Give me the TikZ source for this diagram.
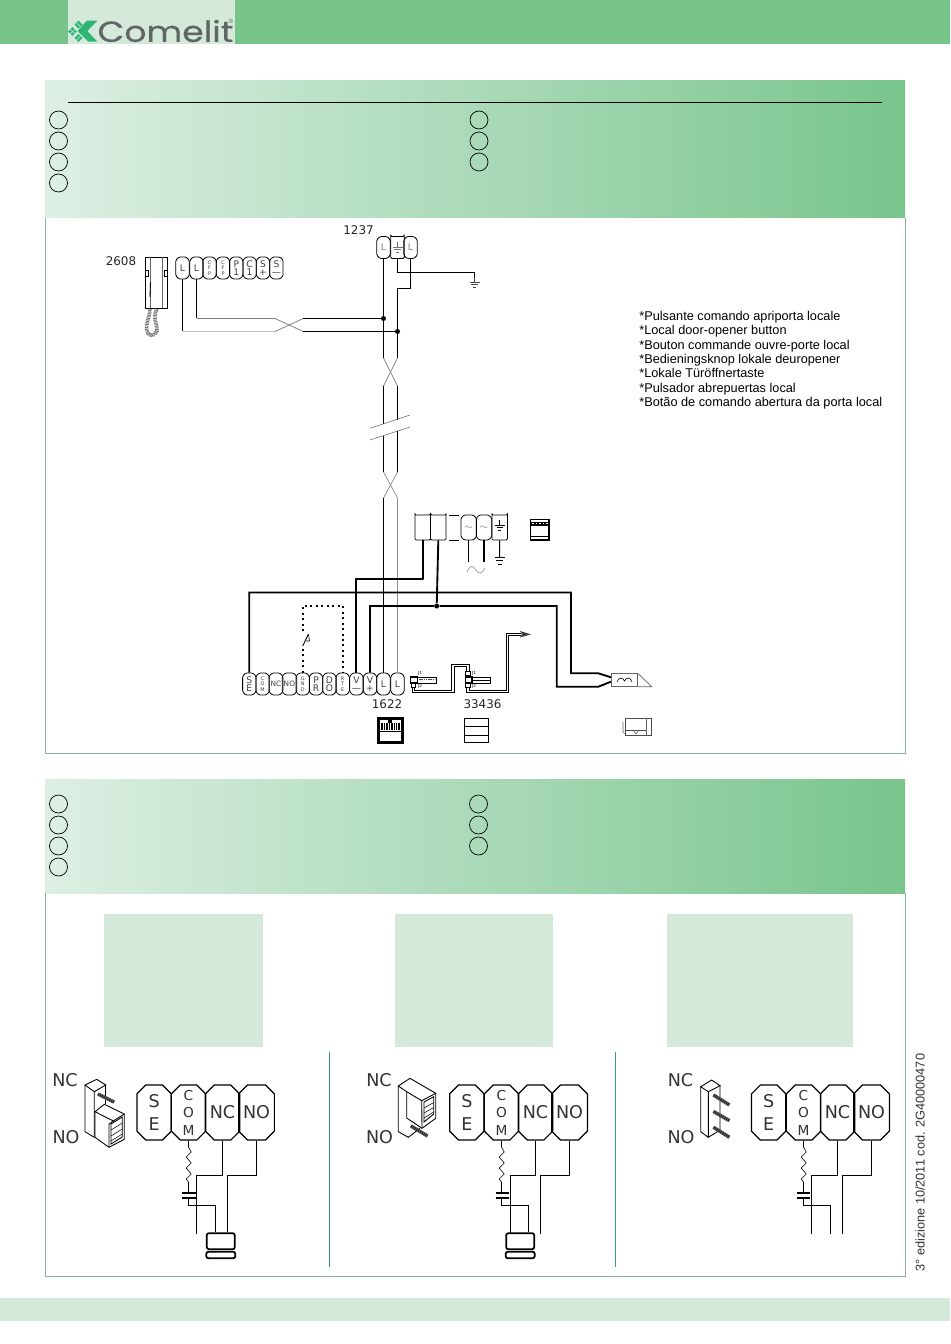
\documentclass[tikz,border=0pt]{standalone}
\usepackage{fontspec}
\setmainfont{Liberation Sans}
\newfontfamily\termfont{DejaVu Sans}
\newfontfamily\logofont[FakeBold=0.5]{Poppins}
\usetikzlibrary{shapes.misc}
\definecolor{headgreen}{HTML}{78C58C}
\definecolor{palegreen}{HTML}{D5E9DA}
\definecolor{fadegreen}{HTML}{DDEFE4}
\definecolor{framegreen}{HTML}{86B49A}
\definecolor{markgreen}{HTML}{2DB573}
\definecolor{logogray}{HTML}{5F6665}
\definecolor{rulegreen}{HTML}{2A9A70}
\definecolor{ruleteal}{HTML}{2AA09A}
\def\earth[#1](#2,#3){\draw[#1] (#2,#3-5) -- (#2,#3); \draw[#1] (#2-5,#3) -- (#2+5,#3); \draw[#1] (#2-3.2,#3+2.6) -- (#2+3.2,#3+2.6); \draw[#1] (#2-1.6,#3+5) -- (#2+1.6,#3+5);}
\def\resistor(#1,#2){\draw[line width=0.35pt] (#1,#2) -- (#1+2.7,#2+5) -- (#1-2.3,#2+10) -- (#1+2.7,#2+16) -- (#1-2.3,#2+21) -- (#1+2.7,#2+27) -- (#1-2.3,#2+32) -- (#1,#2+35);}
\tikzset{
	smallterm/.style={draw, line width=0.45pt, chamfered rectangle, chamfered rectangle sep=0.9pt, rounded corners=0.7pt, inner sep=0, minimum width=0.268cm, minimum height=0.44cm, align=center, text=black!75, font=\termfont\fontsize{5.2}{4.4}\selectfont},
	tinyterm/.style={smallterm, font=\termfont\fontsize{2.8}{3}\selectfont},
	powerterm/.style={smallterm, minimum width=0.31cm, minimum height=0.5cm},
	bigterm/.style={draw, line width=0.7pt, chamfered rectangle, chamfered rectangle sep=2.5pt, inner sep=0, minimum width=0.686cm, minimum height=1.1cm, align=center, text=black!80, font=\termfont\fontsize{10}{13}\selectfont},
	comterm/.style={bigterm, font=\termfont\fontsize{7.8}{10}\selectfont},
	pinlabel/.style={text=black!80, font=\termfont\fontsize{10}{12}\selectfont},
	partno/.style={text=black!85, font=\termfont\fontsize{6.8}{8}\selectfont},
	wire/.style={line width=0.6pt},
	palewire/.style={line width=0.5pt, color=black!45},
	heavywire/.style={line width=1.05pt},
	jdot/.style={circle, fill=black, inner sep=0, minimum size=0.1cm},
	bullet/.style={circle, draw, line width=0.4pt, inner sep=0, minimum size=0.36cm},
	cable/.style={draw=black, line width=0.5pt, double=white, double distance=0.8pt},
	pinstripe/.style={line width=2pt, color=black!60},
	pinhatch/.style={line width=1.6pt, color=black!85, dash pattern=on 0.6pt off 0.6pt},
	relaybox/.style={draw, line width=1pt, rounded corners=1.2pt, inner sep=0},
	plug/.style={draw, fill=white, line width=0.45pt, inner sep=0, minimum width=0.09cm, minimum height=0.08cm},
	jacklabel/.style={inner sep=0, font=\termfont\fontsize{2.4}{3}\selectfont},
}
\begin{document}
\begin{tikzpicture}[x=0.02cm, y=-0.02cm]
			%%%%% PAGE %%%%%
			\useasboundingbox (0, 0) rectangle (950, 1344);
			\fill[white] (0, 0) rectangle (950, 1344);
			\fill[headgreen] (0, 0) rectangle (950, 44.5);
			\fill[palegreen] (68, 0) rectangle (235, 44.5);
			\fill[palegreen] (0, 1298) rectangle (950, 1321);
			
			\fill[markgreen] (86.7, 20.7) -- (97.3, 20.7) -- (87.3, 31) -- (97.3, 41.7) -- (88.3, 41.7) -- (77.7, 31) -- cycle;
			\fill[markgreen] (72.5, 27) -- (76.8, 31.5) -- (72.5, 36) -- (68.2, 31.5) -- cycle;
			\fill[markgreen] (78.5, 20.7) -- (82.5, 24.7) -- (78.5, 28.7) -- (74.5, 24.7) -- cycle;
			\fill[markgreen] (78.5, 34) -- (82.5, 38) -- (78.5, 42) -- (74.5, 38) -- cycle;
			\draw[palegreen, line width=0.3pt] (70.3, 29.5) -- (74.7, 33.7);
			\draw[palegreen, line width=0.3pt] (70.3, 33.7) -- (74.7, 29.5);
			\draw[palegreen, line width=0.3pt] (76.5, 22.7) -- (80.5, 26.7);
			\draw[palegreen, line width=0.3pt] (76.5, 40) -- (80.5, 36);
			\node[inner sep=0, text=logogray, xscale=1.195, transform shape, font=\logofont\fontsize{16.5}{18}\selectfont] (logotext) at (165.5, 31) {Comelit};
			\node[inner sep=0, text=logogray, font=\fontsize{3.5}{4}\selectfont] (logomark) at (231, 21) {®};
			
			%%%%% TOP PANEL %%%%%
			\shade[left color=fadegreen, right color=headgreen] (45, 81) rectangle (905, 218);
			\draw[framegreen, line width=0.55pt] (45, 218) -- (45, 753) -- (905, 753) -- (905, 218);
			\draw[line width=0.5pt] (68, 102.5) -- (882, 102.5);
			
			\node[bullet] (ca) at (58.5, 120) {};
			\node[bullet] (cb) at (58.5, 141) {};
			\node[bullet] (cc) at (58.5, 162) {};
			\node[bullet] (cd) at (58.5, 183) {};
			\node[bullet] (ce) at (479, 120) {};
			\node[bullet] (cf) at (479, 141) {};
			\node[bullet] (cg) at (479, 162) {};
			
			\node[anchor=north west, inner sep=0, align=left, font=\fontsize{7.25}{8.17}\selectfont] (buttonnote) at (639, 311) {*Pulsante comando apriporta locale\\*Local door-opener button\\*Bouton commande ouvre-porte local\\*Bedieningsknop lokale deuropener\\*Lokale Türöffnertaste\\*Pulsador abrepuertas local\\*Botão de comando abertura da porta local};
			
			% handset
			\node[partno] (lhandset) at (121, 261) {2608};
			\draw[line width=0.5pt] (145, 257) rectangle (167.7, 308);
			\draw[line width=0.3pt, color=black!60] (150, 257) -- (150, 308);
			\draw[line width=0.3pt, color=black!60] (162.7, 257) -- (162.7, 308);
			\draw[line width=0.45pt] (145, 270.7) rectangle (148.5, 276);
			\draw[line width=0.45pt] (164, 270.7) rectangle (167.7, 276);
			\draw[line width=0.5pt] (150.5, 282) -- (150, 297);
			\draw[line width=2.1pt, color=black!55, dash pattern=on 0.5pt off 0.4pt] (157, 309) .. controls (152, 318) and (158, 326) .. (157, 331) .. controls (155, 337) and (147, 337) .. (146.5, 329) .. controls (146, 322) and (150, 316) .. (150, 309);
			
			\node[smallterm] (hla) at (182.5, 268) {L};
			\node[smallterm] (hlb) at (196.5, 268) {L};
			\node[tinyterm] (hcfa) at (209.5, 268) {C\\F\\P};
			\node[tinyterm] (hcfb) at (223, 268) {C\\F\\P};
			\node[smallterm] (hpa) at (236.3, 268) {P\\1};
			\node[smallterm] (hca) at (249.6, 268) {C\\1};
			\node[smallterm] (hsp) at (263, 268) {S\\+};
			\node[smallterm] (hsm) at (276.4, 268) {S\\—};
			
			% door entry riser
			\node[partno] (lriser) at (358.5, 230.5) {1237};
			\node[smallterm, text=black!50] (da) at (383.5, 247.5) {L};
			\node[smallterm] (db) at (397.5, 247.5) {};
			\node[smallterm, text=black!50] (dc) at (410.5, 247.5) {L};
			\earth[line width=0.25pt, color=black!55](397.5, 247)
			
			\node[jdot] (ja) at (383.5, 318.5) {};
			\node[jdot] (jb) at (397.5, 331.5) {};
			\coordinate (xa) at (275, 331.5);
			\coordinate (xb) at (275, 318.5);
			\coordinate (xc) at (303.3, 318.5);
			\coordinate (xd) at (303.3, 331.5);
			\coordinate (ga) at (474.5, 272.5);
			\coordinate (gb) at (474.5, 282);
			\coordinate (bend) at (397.5, 288.5);
			\coordinate (twa) at (383.5, 358);
			\coordinate (twb) at (397.5, 358);
			\coordinate (twc) at (383.5, 386);
			\coordinate (twd) at (397.5, 386);
			\coordinate (bra) at (383.5, 424);
			\coordinate (brb) at (397.5, 419.5);
			\coordinate (brc) at (383.5, 435.5);
			\coordinate (brd) at (397.5, 431);
			\coordinate (twe) at (383.5, 472);
			\coordinate (twf) at (397.5, 472);
			\coordinate (twg) at (383.5, 498);
			\coordinate (twh) at (397.5, 498);
			
			\draw[wire] (hla.south) -- (hla.south |- xa);
			\draw[wire] (hlb.south) -- (hlb.south |- xb);
			\draw[line width=0.9pt, color=black!25] (hla.south |- xa) -- (xa);
			\draw[line width=0.5pt, color=black!50] (hlb.south |- xb) -- (xb);
			\draw[palewire] (xa) -- (xc);
			\draw[palewire] (xb) -- (xd);
			\draw[wire] (xc) -- (ja);
			\draw[wire] (xd) -- (jb);
			\draw[wire] (da.south) -- (ja) -- (twa);
			\draw[wire] (dc.south) |- (bend) -- (jb) -- (twb);
			\draw[wire] (db.south) |- (ga) -- (gb);
			\earth[line width=0.3pt, color=black!70](474.5, 282)
			
			\draw[palewire, line width=0.4pt] (twa) -- (twd);
			\draw[palewire, line width=0.4pt] (twb) -- (twc);
			\draw[wire] (twc) -- (bra);
			\draw[wire] (twd) -- (brb);
			\draw[line width=0.3pt, color=black!60] (370, 428.3) -- (410, 415);
			\draw[line width=0.3pt, color=black!60] (370, 440) -- (410, 427);
			\draw[wire] (brc) -- (twe);
			\draw[wire] (brd) -- (twf);
			\draw[palewire, line width=0.4pt] (twe) -- (twh);
			\draw[palewire, line width=0.4pt] (twf) -- (twg);
			
			% power supply
			\node[powerterm] (pa) at (422.7, 527.5) {};
			\node[powerterm] (pb) at (438.3, 527.5) {};
			\node[powerterm, text=black!45] (pc) at (468.7, 527.5) {$\sim$};
			\node[powerterm, text=black!45] (pd) at (484, 527.5) {$\sim$};
			\node[powerterm] (pe) at (499.7, 527.5) {};
			\earth[line width=0.35pt](499.7, 525)
			\draw[line width=0.4pt] (448.5, 515) -- (458.5, 515);
			\draw[line width=0.4pt] (448.5, 540) -- (458.5, 540);
			\coordinate (pca) at (469.3, 561.7);
			\coordinate (pda) at (484.3, 561.7);
			\coordinate (pea) at (499.5, 557);
			\draw[wire] (pc.south) -- (pc.south |- pca);
			\draw[wire] (pd.south) -- (pd.south |- pda);
			\draw[wire] (pe.south) -- (pea);
			\draw[line width=0.4pt] (494.5, 557) -- (504.5, 557);
			\draw[line width=0.4pt] (496, 560.5) -- (503, 560.5);
			\draw[line width=0.4pt] (497.5, 564) -- (501.5, 564);
			\draw[line width=0.3pt, color=black!50] (467, 572) .. controls (470, 565) and (473, 565) .. (476, 570) .. controls (479, 575) and (482, 574) .. (485, 568);
			
			\draw[line width=0.6pt] (530.5, 519.5) rectangle (549, 540);
			\fill[black] (531, 521.5) rectangle (548.5, 526);
			\draw[white, line width=0.5pt, dash pattern=on 1pt off 1pt] (532, 523.8) -- (548, 523.8);
			\draw[line width=0.5pt] (530.5, 536) -- (549, 536);
			
			% outdoor module
			\node[smallterm] (mse) at (249.3, 684) {S\\E};
			\node[tinyterm] (mcom) at (262.6, 684) {C\\O\\M};
			\node[smallterm, font=\termfont\fontsize{4.2}{5}\selectfont] (mnc) at (276, 684) {NC};
			\node[smallterm, font=\termfont\fontsize{4.2}{5}\selectfont] (mno) at (289.4, 684) {NO};
			\node[tinyterm] (mgnd) at (302.7, 684) {G\\N\\D};
			\node[smallterm] (mpr) at (316, 684) {P\\R};
			\node[smallterm] (mdo) at (329.4, 684) {D\\O};
			\node[tinyterm] (mrte) at (342.7, 684) {R\\T\\E};
			\node[smallterm] (mvm) at (356.4, 684) {V\\—};
			\node[smallterm] (mvp) at (370, 684) {V\\+};
			\node[smallterm] (mla) at (383.5, 684) {L};
			\node[smallterm] (mlb) at (397.5, 684) {L};
			\node[partno] (lmodule) at (387, 704) {1622};
			\node[partno] (lkeypad) at (482.5, 704) {33436};
			
			\draw[wire] (twg) -- (mla.north);
			\draw[palewire] (twh) -- (mlb.north);
			
			\coordinate (sa) at (571, 592.5);
			\coordinate (sb) at (571, 673.3);
			\coordinate (sc) at (598.3, 673.3);
			\coordinate (va) at (423.5, 579.3);
			\coordinate (vb) at (556.7, 606);
			\coordinate (vc) at (556.7, 686.7);
			\coordinate (vd) at (598.3, 686.7);
			\coordinate (doa) at (302.7, 631);
			\coordinate (dob) at (302.7, 646);
			\coordinate (doc) at (343.3, 606);
			\coordinate (caa) at (611, 677.3);
			\coordinate (cab) at (611, 681.7);
			\node[jdot] (jc) at (436.7, 606) {};
			
			\draw[heavywire] (mse.north) |- (sa) -- (sb) -- (sc) -- (caa);
			\draw[heavywire] (mvp.north) |- (jc) -- (vb) -- (vc) -- (vd) -- (cab);
			\draw[heavywire] (jc) -- (pb.south);
			\draw[heavywire] (pa.south) |- (va) -| (mvm.north);
			\draw[line width=1.1pt, dotted] (mgnd.north) -- (dob);
			\draw[line width=1.1pt, dotted] (doa) -- (mgnd.north |- doc) -| (mrte.north);
			\draw[line width=0.5pt] (dob) -- (308.5, 634);
			\draw[line width=0.35pt] (306, 641) -- (309.5, 641) -- (308.5, 634.5);
			
			% camera
			\draw[line width=0.4pt, color=black!60] (611, 673.3) rectangle (637.7, 686.7);
			\draw[line width=0.4pt, color=black!60] (637.7, 673.3) -- (651.7, 686.7) -- (637.7, 686.7);
			\draw[line width=0.35pt] (617, 682) .. controls (618, 677) and (623, 677) .. (624.5, 681) .. controls (626, 677) and (631, 677) .. (632, 682);
			\draw[line width=0.45pt, color=black!70] (625, 718) rectangle (651.7, 735);
			\draw[line width=0.3pt, color=black!60] (623, 722) -- (623, 732) -- (625, 734);
			\draw[line width=0.3pt, color=black!60] (646, 718) -- (646, 735);
			\draw[line width=0.3pt, color=black!70] (625, 730) -- (646, 730);
			\draw[line width=0.3pt, color=black!70] (633, 730) -- (636, 734) -- (639, 730);
			
			% keypad modules
			\draw[line width=0.45pt] (417.3, 677.5) rectangle (436.7, 683.3);
			\draw[line width=0.9pt, dash pattern=on 0.9pt off 0.4pt, color=black!70] (419, 679.5) -- (435, 679.5);
			\draw[line width=0.8pt] (410.5, 677) rectangle (417.3, 683);
			\node[plug] (pla) at (413.5, 685.2) {};
			\node[jacklabel] (lja) at (420, 673.7) {J1};
			\node[jacklabel] (ljb) at (420, 686.7) {J2};
			
			\draw[line width=0.45pt] (472, 677) rectangle (490, 683.3);
			\draw[line width=1pt] (472, 680.5) -- (490, 680.5);
			\draw[line width=0.8pt] (465.5, 677) rectangle (472, 683);
			\node[plug] (plb) at (468, 673.7) {};
			\node[plug] (plc) at (468, 685.2) {};
			\node[jacklabel] (ljc) at (474, 673.7) {J1};
			\node[jacklabel] (ljd) at (474, 686.7) {J2};
			
			\coordinate (caba) at (453, 691.7);
			\coordinate (cabb) at (453, 665.7);
			\coordinate (cabc) at (507.3, 691.7);
			\coordinate (cabd) at (507.3, 634.3);
			\coordinate (cabe) at (521, 634.3);
			\draw[cable] (pla.south) |- (caba) -- (cabb) -| (plb.north);
			\draw[cable] (plc.south) |- (cabc) -- (cabd) -- (cabe);
			\fill[black!75] (520, 631) -- (531, 634.3) -- (520, 637.5) -- (522, 634.3) -- cycle;
			
			% module icons
			\draw[line width=1.2pt] (378.5, 718.5) rectangle (402.5, 742.5);
			\draw[line width=0.7pt] (378.5, 731.5) -- (402.5, 731.5);
			\foreach \gx in {381, 382.7, ..., 400.5} {
				\draw[line width=0.5pt] (\gx, 723) -- (\gx, 729.5);
			}
			\fill[black] (388, 719) rectangle (392, 723);
			\draw[line width=0.8pt] (464.5, 718.5) rectangle (488.5, 742.5);
			\draw[line width=0.5pt] (464.5, 726.7) -- (488.5, 726.7);
			\draw[line width=0.5pt] (464.5, 735) -- (488.5, 735);
			
			%%%%% BOTTOM PANEL %%%%%
			\shade[left color=fadegreen, right color=headgreen] (45, 779) rectangle (905, 893);
			\draw[framegreen, line width=0.55pt] (45, 893) -- (45, 1276) -- (905, 1276) -- (905, 893);
			
			\node[bullet] (ch) at (58.5, 804) {};
			\node[bullet] (ci) at (58.5, 825) {};
			\node[bullet] (cj) at (58.5, 846) {};
			\node[bullet] (ck) at (58.5, 867) {};
			\node[bullet] (cl) at (478.5, 804) {};
			\node[bullet] (cm) at (478.5, 825) {};
			\node[bullet] (cn) at (478.5, 846) {};
			
			\fill[palegreen] (104, 914) rectangle (263, 1047);
			\fill[palegreen] (394.5, 914) rectangle (553, 1047);
			\fill[palegreen] (667, 914) rectangle (853, 1047);
			
			\draw[color=rulegreen, line width=0.6pt] (329.5, 1052) -- (329.5, 1267);
			\draw[color=ruleteal, line width=0.6pt] (615.5, 1052) -- (615.5, 1267);
			\node[rotate=90, anchor=west, inner sep=0, text=black!80, font=\fontsize{7.25}{8}\selectfont] (edition) at (920, 1272) {3° edizione 10/2011 cod. 2G40000470};
			
			% first contact
			\node[pinlabel] (lnca) at (65, 1080) {NC};
			\node[pinlabel] (lnoa) at (66, 1137.5) {NO};
			\node[bigterm] (sea) at (154.2, 1112.5) {S\\E};
			\node[comterm] (coa) at (188.5, 1112.5) {C\\O\\M};
			\node[bigterm] (nca) at (222.5, 1112.5) {NC};
			\node[bigterm] (noa) at (256.5, 1112.5) {NO};
			\node[relaybox, minimum width=0.56cm, minimum height=0.32cm] (rea) at (220.8, 1241.2) {};
			\node[relaybox, minimum width=0.58cm, minimum height=0.13cm] (rfa) at (220.8, 1255) {};
			\coordinate (raa) at (188.5, 1147);
			\coordinate (rab) at (188.5, 1192);
			\coordinate (rac) at (188.5, 1199);
			\coordinate (rad) at (215.5, 1205.5);
			\coordinate (rae) at (196.5, 1175.5);
			\coordinate (raf) at (196.5, 1233.5);
			\coordinate (rag) at (227.5, 1175.5);
			\draw[wire] (coa.south) -- (raa);
			\resistor(188.5, 1147)
			\draw[wire] (188.5, 1182) -- (rab);
			\draw[line width=1.2pt] (182.3, 1193.3) -- (195.7, 1193.3);
			\draw[line width=1.2pt] (182.3, 1198.3) -- (195.7, 1198.3);
			\draw[wire] (rac) |- (rad) -- (rad |- rea.north);
			\draw[wire] (nca.south) |- (rae) -- (raf);
			\draw[wire] (noa.south) |- (rag) -- (rag |- rea.north);
			
			\draw[line width=0.5pt] (85, 1085) -- (96.7, 1079.3) -- (105.7, 1085) -- (94.3, 1091.7) -- cycle;
			\draw[line width=0.5pt] (85, 1085) -- (85, 1131.7) -- (94.3, 1137.3) -- (94.3, 1091.7);
			\draw[line width=0.5pt] (105.7, 1085) -- (105.7, 1104);
			\draw[pinstripe] (98, 1094) -- (114, 1102);
			\draw[pinhatch] (98, 1094) -- (114, 1102);
			\draw[line width=0.5pt] (95, 1111.7) -- (104.3, 1104.3) -- (124.3, 1114) -- (113.3, 1121) -- cycle;
			\draw[line width=0.5pt] (95, 1111.7) -- (95, 1137.3) -- (109, 1147.3) -- (124.3, 1139.3) -- (124.3, 1114);
			\draw[line width=0.5pt] (109, 1147.3) -- (109, 1124) -- (113.3, 1121);
			\draw[line width=0.5pt] (111, 1124) -- (122.3, 1117) -- (122.3, 1137) -- (111, 1144) -- cycle;
			\draw[line width=0.3pt] (111, 1130) -- (122.3, 1123);
			\draw[line width=0.3pt] (111, 1136) -- (122.3, 1129);
			\draw[line width=0.3pt] (111, 1141) -- (122.3, 1134);
			
			% second contact
			\node[pinlabel] (lncb) at (379, 1080) {NC};
			\node[pinlabel] (lnob) at (379.5, 1137.5) {NO};
			\node[bigterm] (seb) at (466.9, 1112.5) {S\\E};
			\node[comterm] (cob) at (501.5, 1112.5) {C\\O\\M};
			\node[bigterm] (ncb) at (535.5, 1112.5) {NC};
			\node[bigterm] (nob) at (569.5, 1112.5) {NO};
			\node[relaybox, minimum width=0.56cm, minimum height=0.32cm] (reb) at (520.2, 1241.2) {};
			\node[relaybox, minimum width=0.58cm, minimum height=0.13cm] (rfb) at (520.2, 1255) {};
			\coordinate (rba) at (501.5, 1147);
			\coordinate (rbb) at (501.5, 1192);
			\coordinate (rbc) at (501.5, 1199);
			\coordinate (rbd) at (528.5, 1205.5);
			\coordinate (rbe) at (510.5, 1175.5);
			\coordinate (rbf) at (510.5, 1233.5);
			\coordinate (rbg) at (540.5, 1175.5);
			\coordinate (rbh) at (540.5, 1233.5);
			\draw[wire] (cob.south) -- (rba);
			\resistor(501.5, 1147)
			\draw[wire] (501.5, 1182) -- (rbb);
			\draw[line width=1.2pt] (495.5, 1193.3) -- (509, 1193.3);
			\draw[line width=1.2pt] (495.5, 1198.3) -- (509, 1198.3);
			\draw[wire] (rbc) |- (rbd) -- (rbd |- reb.north);
			\draw[wire] (ncb.south) |- (rbe) -- (rbf);
			\draw[wire] (nob.south) |- (rbg) -- (rbh);
			
			\draw[line width=0.5pt] (398.3, 1086) -- (410, 1078.3) -- (435.7, 1093.3) -- (421.7, 1100.7) -- (406.7, 1091.7) -- cycle;
			\draw[line width=0.5pt] (398.3, 1086) -- (398.3, 1131.7) -- (408.3, 1137.3) -- (420, 1128.3);
			\draw[line width=0.5pt] (406.7, 1091.7) -- (406.7, 1118) -- (422, 1128.3) -- (435.7, 1118.3) -- (435.7, 1093.3);
			\draw[line width=0.5pt] (421.7, 1100.7) -- (422, 1128.3);
			\draw[line width=0.5pt] (424, 1102) -- (433.7, 1096.7) -- (433.7, 1114) -- (424, 1122) -- cycle;
			\draw[line width=0.3pt] (424, 1108) -- (433.7, 1102.5);
			\draw[line width=0.3pt] (424, 1113) -- (433.7, 1107.5);
			\draw[line width=0.3pt] (424, 1118) -- (433.7, 1112);
			\draw[pinstripe] (411, 1126) -- (427.5, 1136);
			\draw[pinhatch] (411, 1126) -- (427.5, 1136);
			
			% third contact
			\node[pinlabel] (lncc) at (680.5, 1080) {NC};
			\node[pinlabel] (lnoc) at (681, 1137.5) {NO};
			\node[bigterm] (sec) at (768.7, 1112.5) {S\\E};
			\node[comterm] (coc) at (803.5, 1112.5) {C\\O\\M};
			\node[bigterm] (ncc) at (837.5, 1112.5) {NC};
			\node[bigterm] (noc) at (871.5, 1112.5) {NO};
			\coordinate (rca) at (803.5, 1147);
			\coordinate (rcb) at (803.5, 1192);
			\coordinate (rcc) at (803.5, 1199);
			\coordinate (rcd) at (830.5, 1205.5);
			\coordinate (rce) at (811.5, 1175.5);
			\coordinate (rcf) at (811.5, 1234);
			\coordinate (rcg) at (842.5, 1175.5);
			\coordinate (rch) at (842.5, 1234);
			\coordinate (rci) at (830.5, 1234);
			\draw[wire] (coc.south) -- (rca);
			\resistor(803.5, 1147)
			\draw[wire] (803.5, 1182) -- (rcb);
			\draw[line width=1.2pt] (797, 1193.3) -- (810, 1193.3);
			\draw[line width=1.2pt] (797, 1198.3) -- (810, 1198.3);
			\draw[wire] (rcc) |- (rcd) -- (rci);
			\draw[wire] (ncc.south) |- (rce) -- (rcf);
			\draw[wire] (noc.south) |- (rcg) -- (rch);
			
			\draw[line width=0.5pt] (700.7, 1086.7) -- (711.7, 1080) -- (720, 1085.7) -- (708.3, 1091.7) -- cycle;
			\draw[line width=0.5pt] (700.7, 1086.7) -- (700.7, 1131.7) -- (708.3, 1137.3) -- (708.3, 1091.7);
			\draw[line width=0.5pt] (708.3, 1137.3) -- (720, 1130) -- (720, 1085.7);
			\draw[pinstripe] (713.5, 1095) -- (729.5, 1105);
			\draw[pinhatch] (713.5, 1095) -- (729.5, 1105);
			\draw[pinstripe] (713.5, 1111.5) -- (729.5, 1120.7);
			\draw[pinhatch] (713.5, 1111.5) -- (729.5, 1120.7);
			\draw[pinstripe] (713.5, 1127.3) -- (729.5, 1137.3);
			\draw[pinhatch] (713.5, 1127.3) -- (729.5, 1137.3);
			%%%%% END %%%%%
\end{tikzpicture}
\end{document}
